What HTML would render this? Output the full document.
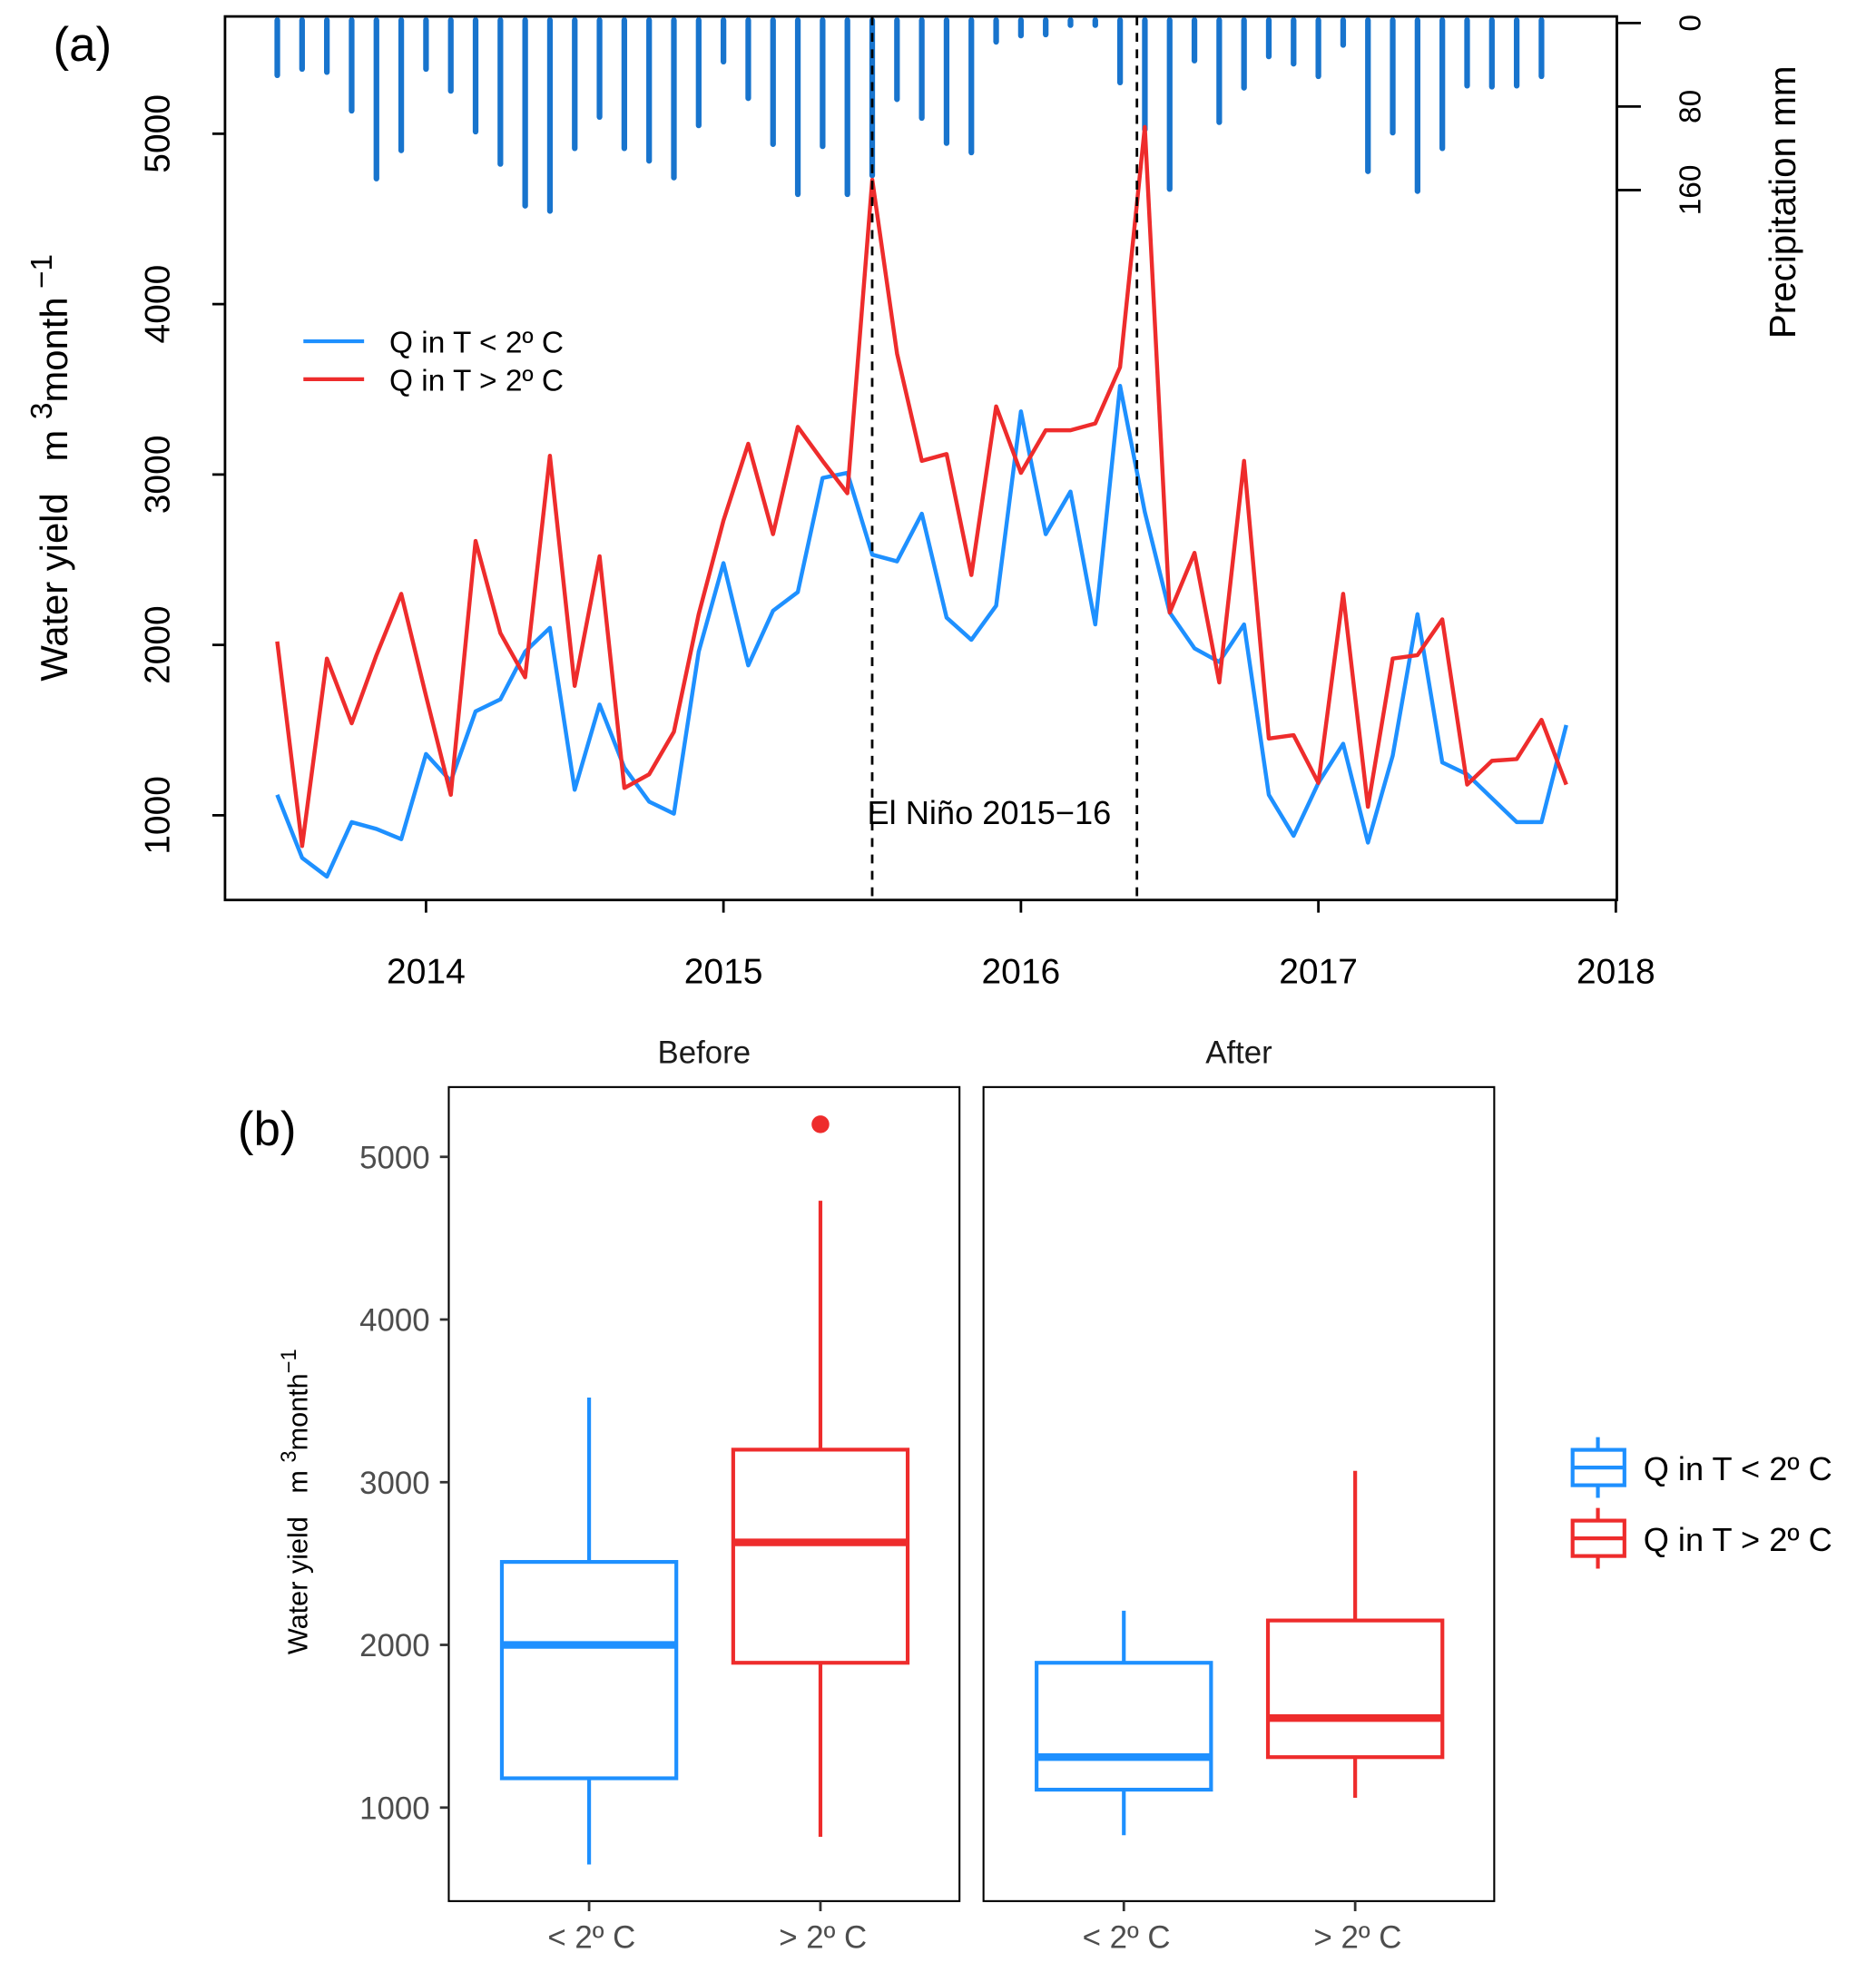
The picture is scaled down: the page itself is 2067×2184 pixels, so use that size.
<!DOCTYPE html>
<html><head><meta charset="utf-8"><style>
html,body{margin:0;padding:0;background:#fff}
svg{display:block;font-family:"Liberation Sans",Arial,sans-serif}
text{white-space:pre}
</style></head><body>
<svg id="chart" width="2067" height="2184" viewBox="0 0 1484 1568" preserveAspectRatio="none" xmlns="http://www.w3.org/2000/svg">
<g id="gtop"></g>
<g id="gbot"></g>
</svg>
<script>
const blueQ=[1120,750,640,960,920,860,1360,1200,1610,1680,1960,2100,1150,1650,1280,1080,1010,1960,2480,1880,2200,2310,2980,3010,2530,2490,2770,2160,2030,2230,3370,2650,2900,2120,3520,2780,2190,1980,1900,2120,1120,880,1190,1420,840,1350,2180,1310,1240,1100,960,960,1530];
const redQ=[2020,820,1920,1540,1940,2300,1700,1120,2610,2070,1810,3110,1760,2520,1160,1240,1490,2180,2730,3180,2650,3280,3080,2890,4730,3710,3080,3120,2410,3400,3010,3260,3260,3300,3630,5040,2190,2540,1780,3080,1450,1470,1190,2300,1050,1920,1940,2150,1180,1320,1330,1560,1180];
const precip=[50,44,47,84,149,122,44,65,104,135,175,180,120,90,120,132,148,98,37,72,116,164,118,164,146,73,91,115,124,18,12,11,2,2,57,102,159,36,95,62,32,39,51,21,142,105,161,120,60,61,60,51];
const yearTicks=[2014,2015,2016,2017,2018];
const qTicks=[1000,2000,3000,4000,5000];
const pTicks=[0,80,160];
const elNino=[2015.5,2016.39];
const startYear=2013.5;
// boxplot stats: [whiskerLow, q1, median, q3, whiskerHigh]
const boxFacets=["Before","After"];
const boxCats=["< 2º C","> 2º C"];
const boxBeforeLow=[650,1180,2000,2510,3520];
const boxBeforeHigh=[820,1890,2630,3200,4730];
const boxAfterLow=[830,1110,1310,1890,2210];
const boxAfterHigh=[1060,1310,1550,2150,3070];
const outliersBeforeHigh=[5200];
const bTicks=[1000,2000,3000,4000,5000];

const NS="http://www.w3.org/2000/svg";
function mk(parent,tag,attrs,text){const e=document.createElementNS(NS,tag);for(const k in attrs)e.setAttribute(k,attrs[k]);if(text!==undefined)e.textContent=text;parent.appendChild(e);return e;}
const BLUE="#1E90FF",RED="#EE2C2C",PBLUE="#1874CD";

// ---- Panel (a)
const panelA=document.getElementById('gtop');
const xA=y=>337+(y-2014)*235.3;
const yA=v=>645-(v-1000)*0.1348;
const yP=v=>18.2+v*0.826;
const frameA=mk(panelA,'rect',{x:178,y:13,width:1101,height:699,fill:'none',stroke:'#000','stroke-width':2});


precip.forEach((p,i)=>{const x=xA(startYear+i/12);
 const b=mk(panelA,'line',{x1:x,x2:x,y1:16,y2:Math.max(yP(p),17.5),stroke:PBLUE,'stroke-width':4.5,'stroke-linecap':'round'});
 
 });
function drawLine(arr,col,name){const d=arr.map((v,i)=>(i?'L':'M')+xA(startYear+i/12).toFixed(1)+','+yA(v).toFixed(1)).join('');
 const p=mk(panelA,'path',{d:d,fill:'none',stroke:col,'stroke-width':3.2,'stroke-linejoin':'round'});
 
 }
drawLine(blueQ,BLUE,'series-q-below-2c');
drawLine(redQ,RED,'series-q-above-2c');
elNino.forEach(t=>{const l=mk(panelA,'line',{x1:xA(t),x2:xA(t),y1:13,y2:712,stroke:'#000','stroke-width':2,'stroke-dasharray':'7,6'});
 
 });
const en=mk(panelA,'text',{x:686,y:652,'font-size':26},'El Niño 2015−16');


yearTicks.forEach(t=>{const x=xA(t);mk(panelA,'line',{x1:x,x2:x,y1:712,y2:722,stroke:'#000','stroke-width':2});
 const tx=mk(panelA,'text',{x:x,y:778,'font-size':28,'text-anchor':'middle'},t);
 
 });
qTicks.forEach(t=>{const y=yA(t);mk(panelA,'line',{x1:168,x2:178,y1:y,y2:y,stroke:'#000','stroke-width':2});
 const tx=mk(panelA,'text',{x:0,y:0,'font-size':28,'text-anchor':'middle',transform:`translate(134,${y}) rotate(-90)`},t);
 
 });
mk(panelA,'line',{x1:1279,x2:1279,y1:yP(0),y2:yP(160),stroke:'#000','stroke-width':2});
pTicks.forEach(t=>{const y=yP(t);mk(panelA,'line',{x1:1279,x2:1298,y1:y,y2:y,stroke:'#000','stroke-width':2});
 const tx=mk(panelA,'text',{x:0,y:0,'font-size':24,'text-anchor':'middle',transform:`translate(1345,${y}) rotate(-90)`},t);
 
 });
const pt=mk(panelA,'text',{x:0,y:0,'font-size':29,'text-anchor':'middle',transform:'translate(1420,160) rotate(-90)'},'Precipitation mm');


const yt=mk(panelA,'text',{x:0,y:0,'font-size':30,'text-anchor':'middle',transform:'translate(53,370) rotate(-90)'});
mk(yt,'tspan',{},'Water yield   m ');
mk(yt,'tspan',{dy:-12,'font-size':24},'3');
mk(yt,'tspan',{dy:12},'month');
mk(yt,'tspan',{dy:-12,'font-size':24},' −1');


[[BLUE,'Q in T < 2º C',270],[RED,'Q in T > 2º C',300]].forEach(([c,t,y])=>{
 const g=mk(panelA,'g',{});
 
 
 mk(g,'line',{x1:240,x2:288,y1:y,y2:y,stroke:c,'stroke-width':3});
 mk(g,'text',{x:308,y:y+9,'font-size':24},t);});
const la=mk(panelA,'text',{x:42,y:48,'font-size':38},'(a)');



// ---- Panel (b)
const panelB=document.getElementById('gbot');
const yB=v=>1430-(v-1000)*0.1287;
const facetX=[355,778];
const catOff=[111,294];
const stats=[[boxBeforeLow,boxBeforeHigh],[boxAfterLow,boxAfterHigh]];
const outs=[[[],outliersBeforeHigh],[[],[]]];
const cols=[BLUE,RED];
boxFacets.forEach((f,fi)=>{const x0=facetX[fi];
 const fr=mk(panelB,'rect',{x:x0,y:860,width:404,height:644,fill:'none',stroke:'#000','stroke-width':1.5});
 
 
 const st=mk(panelB,'text',{x:x0+202,y:841,'font-size':25,'text-anchor':'middle',fill:'#1a1a1a'},f);
 
 
 boxCats.forEach((c,ci)=>{const cx=x0+catOff[ci],s=stats[fi][ci],col=cols[ci],hw=69;
  const g=mk(panelB,'g',{});
  
  
  mk(g,'line',{x1:cx,x2:cx,y1:yB(s[0]),y2:yB(s[1]),stroke:col,'stroke-width':3});
  mk(g,'line',{x1:cx,x2:cx,y1:yB(s[3]),y2:yB(s[4]),stroke:col,'stroke-width':3});
  mk(g,'rect',{x:cx-hw,y:yB(s[3]),width:2*hw,height:yB(s[1])-yB(s[3]),fill:'#fff',stroke:col,'stroke-width':3});
  mk(g,'line',{x1:cx-hw,x2:cx+hw,y1:yB(s[2]),y2:yB(s[2]),stroke:col,'stroke-width':6});
  outs[fi][ci].forEach(o=>{const d=mk(g,'circle',{cx:cx,cy:yB(o),r:7,fill:col});
   
   });
  mk(panelB,'line',{x1:cx,x2:cx,y1:1504,y2:1512,stroke:'#333','stroke-width':2});
  const tl=mk(panelB,'text',{x:cx+2,y:1541,'font-size':25,'text-anchor':'middle',fill:'#4d4d4d'},c);
  
  });
});
bTicks.forEach(t=>{const y=yB(t);mk(panelB,'line',{x1:348,x2:355,y1:y,y2:y,stroke:'#333','stroke-width':2});
 const tx=mk(panelB,'text',{x:340,y:y+9,'font-size':25,'text-anchor':'end',fill:'#4d4d4d'},t);
 
 });
const yt2=mk(panelB,'text',{x:0,y:0,'font-size':22,'text-anchor':'middle',transform:'translate(243,1188) rotate(-90)'});
mk(yt2,'tspan',{},'Water yield   m ');
mk(yt2,'tspan',{dy:-9,'font-size':17},'3');
mk(yt2,'tspan',{dy:9},'month');
mk(yt2,'tspan',{dy:-9,'font-size':17},'−1');


[[BLUE,'Q in T < 2º C',1161],[RED,'Q in T > 2º C',1217]].forEach(([c,t,y])=>{
 const g=mk(panelB,'g',{});
 
 
 mk(g,'line',{x1:1264,x2:1264,y1:y-24,y2:y+24,stroke:c,'stroke-width':3});
 mk(g,'rect',{x:1244,y:y-14,width:41,height:28,fill:'#fff',stroke:c,'stroke-width':3});
 mk(g,'line',{x1:1244,x2:1285,y1:y,y2:y,stroke:c,'stroke-width':3});
 mk(g,'text',{x:1300,y:y+10,'font-size':26},t);});
const lb=mk(panelB,'text',{x:188,y:906,'font-size':38},'(b)');


</script>
</body></html>
